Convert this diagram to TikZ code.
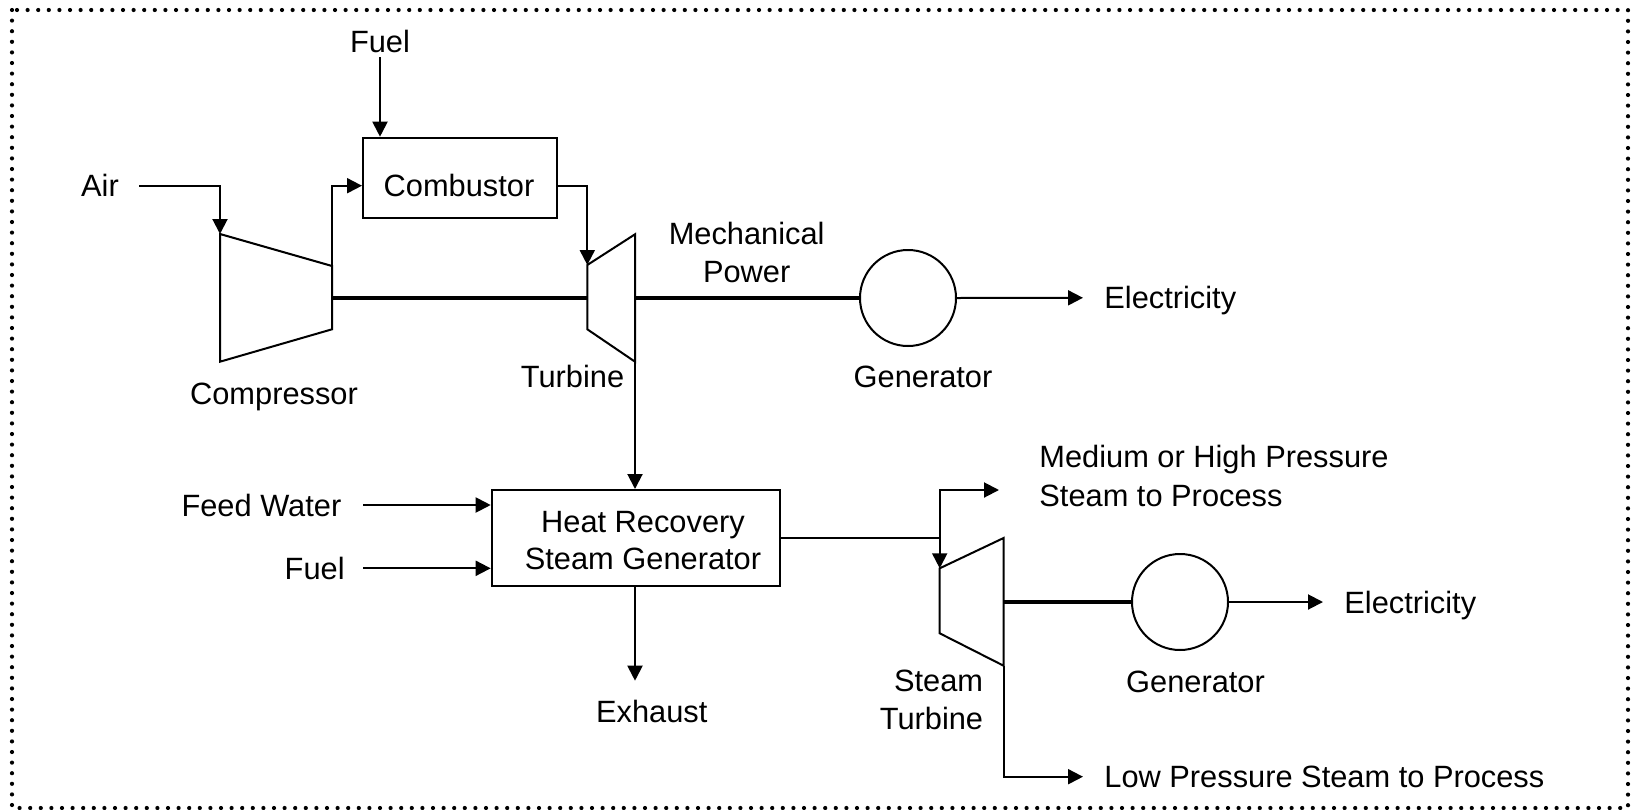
\documentclass[tikz,border=0pt]{standalone}
\usepackage{fontspec}
\setmainfont{Liberation Sans}
\usetikzlibrary{arrows.meta}
\tikzset{
  flow/.style={line width=1pt},
  arr/.style={line width=1pt,-{Triangle[length=7.5pt,width=7.5pt]}},
  shaftline/.style={line width=2.25pt},
  border/.style={line width=2.1pt, dash pattern=on 0pt off 5.3pt, line cap=round},
  lbl/.style={inner sep=0pt, text height=11.03pt, text depth=0pt, font=\fontsize{15.4pt}{18pt}\selectfont},
  unitshape/.style={draw, line width=1pt, line join=miter},
  boxnode/.style={draw, line width=1pt, inner sep=0pt},
  gennode/.style={draw, circle, line width=1pt, minimum size=48pt, inner sep=0pt}
}
\begin{document}
\begin{tikzpicture}[x=0.5pt,y=-0.5pt]
\useasboundingbox (0,0) rectangle (1633,809);
\draw[border] (12,10) rectangle (1628,808);

% gas turbine section
\coordinate (c1) at (220,234);
\coordinate (c2) at (332,266);
\coordinate (c3) at (332,329.3);
\coordinate (c4) at (220,361.7);
\coordinate (t1) at (587.3,265);
\coordinate (t2) at (635,234.3);
\coordinate (t3) at (635,361.7);
\coordinate (t4) at (587.3,329.3);
\draw[unitshape] (c1) -- (c2) -- (c3) -- (c4) -- cycle;
\draw[unitshape] (t1) -- (t2) -- (t3) -- (t4) -- cycle;

\node[boxnode, minimum width=97pt, minimum height=40pt] (comb) at (460,177.7) {};
\node[lbl] (combtxt) at (459,185) {Combustor};
\node[gennode] (gen1) at (908,298) {};

\node[lbl] (fuel1) at (380,41.7) {Fuel};
\node[lbl] (air) at (100,185.7) {Air};
\node[lbl] (comptxt) at (274,393) {Compressor};
\node[lbl] (turbtxt) at (572.5,376.7) {Turbine};
\node[lbl] (mech1) at (746.7,233.3) {Mechanical};
\node[lbl] (mech2) at (746.7,271.7) {Power};
\node[lbl] (gen1txt) at (923,376.7) {Generator};
\node[lbl, anchor=west] (elec1) at (1104,297.8) {Electricity};

\coordinate (fuel1S) at (380,57);
\coordinate (airS) at (139.3,185.7);
\coordinate (elec1T) at (1083,297.8);

\draw[arr] (fuel1S) -- (fuel1S |- comb.north);
\draw[arr] (airS) -| (c1);
\draw[arr] (c2) |- (comb.west |- airS);
\draw[arr] (comb.east |- airS) -| (t1);
\draw[shaftline] (c2 |- gen1) -- (t1 |- gen1);
\draw[shaftline] (t2 |- gen1) -- (gen1.west);
\draw[arr] (gen1.east) -- (elec1T);

% HRSG section
\node[boxnode, minimum width=143.9pt, minimum height=47.85pt] (hrsg) at (635.6,537.85) {};
\node[lbl] (hrsg1) at (643,521.7) {Heat Recovery};
\node[lbl] (hrsg2) at (643,558.3) {Steam Generator};
\node[lbl, anchor=east] (fw) at (341.7,505) {Feed Water};
\node[lbl, anchor=east] (fuel2) at (345,568.3) {Fuel};
\node[lbl] (exh) at (651.8,711.7) {Exhaust};

\coordinate (fwS) at (363.3,505);
\coordinate (fuel2S) at (363.3,568.3);
\coordinate (exT) at (635,680.7);

\draw[arr] (t3) -- (t3 |- hrsg.north);
\draw[arr] (fwS) -- (hrsg.west |- fwS);
\draw[arr] (fuel2S) -- (hrsg.west |- fuel2S);
\draw[arr] (exT |- hrsg.south) -- (exT);

% steam turbine section
\coordinate (s1) at (939.7,568.3);
\coordinate (s2) at (1003.6,538);
\coordinate (s3) at (1003.6,665.7);
\coordinate (s4) at (939.7,633.3);
\draw[unitshape] (s1) -- (s2) -- (s3) -- (s4) -- cycle;
\node[gennode] (gen2) at (1180,602) {};

\node[lbl, anchor=west] (mp1) at (1039,456.7) {Medium or High Pressure};
\node[lbl, anchor=west] (mp2) at (1039,495) {Steam to Process};
\node[lbl, anchor=east] (st1) at (983.5,680.7) {Steam};
\node[lbl, anchor=east] (st2) at (983.5,718.3) {Turbine};
\node[lbl] (gen2txt) at (1195.5,681) {Generator};
\node[lbl, anchor=west] (elec2) at (1344,602) {Electricity};
\node[lbl, anchor=west] (lp) at (1104,776.7) {Low Pressure Steam to Process};

\coordinate (mpT) at (999,490);
\coordinate (elec2T) at (1323,602);
\coordinate (lpT) at (1083,776.7);

\draw[arr] (hrsg.east) -| (s1);
\draw[arr] (s1 |- hrsg.east) |- (mpT);
\draw[shaftline] (s2 |- gen2) -- (gen2.west);
\draw[arr] (gen2.east) -- (elec2T);
\draw[arr] (s3) |- (lpT);
\end{tikzpicture}
\end{document}
